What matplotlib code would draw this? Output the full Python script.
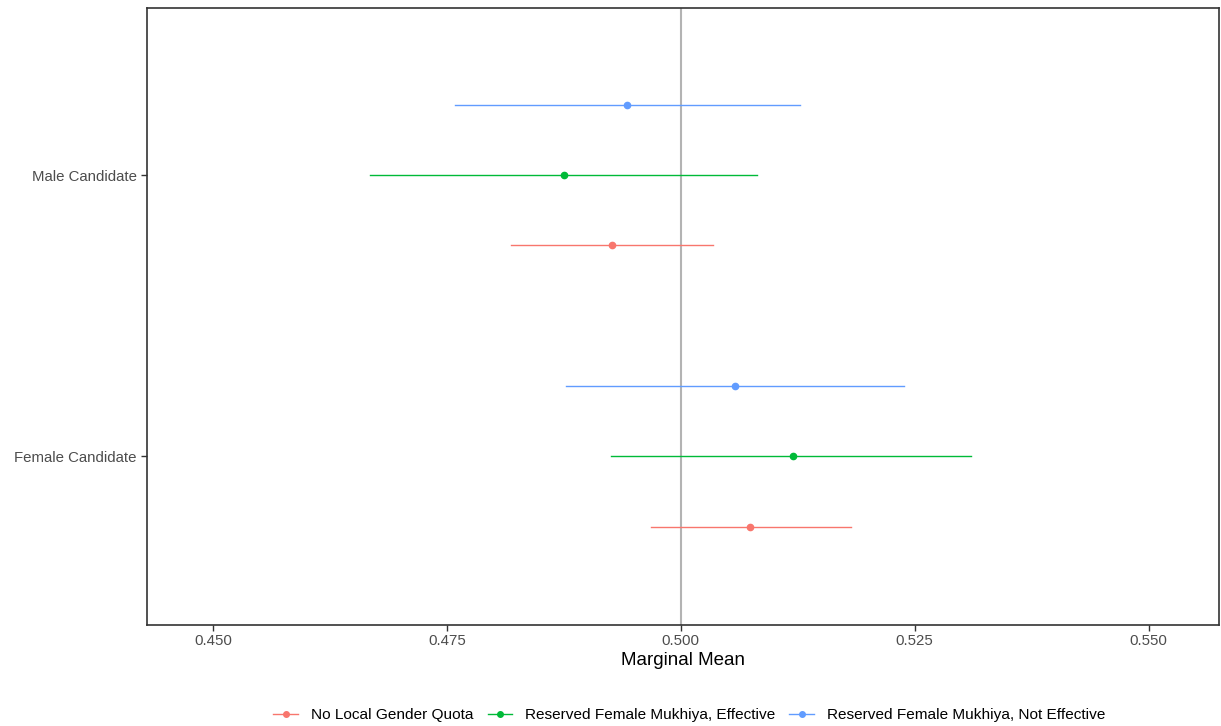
import matplotlib.pyplot as plt

# attribute levels (y axis), bottom to top
levels = ["Female Candidate", "Male Candidate"]
groups = ["No Local Gender Quota", "Reserved Female Mukhiya, Effective",
          "Reserved Female Mukhiya, Not Effective"]
colors = ["#F8766D", "#00BA38", "#619CFF"]

# marginal means and CI per group, order follows levels
est = {
    groups[0]: [0.5074, 0.4926],
    groups[1]: [0.5120, 0.4875],
    groups[2]: [0.5058, 0.4942],
}
lower = {
    groups[0]: [0.4968, 0.4819],
    groups[1]: [0.4925, 0.4668],
    groups[2]: [0.4877, 0.4759],
}
upper = {
    groups[0]: [0.5182, 0.5034],
    groups[1]: [0.5310, 0.5081],
    groups[2]: [0.5239, 0.5127],
}

plt.rcParams['font.family'] = ['Liberation Sans', 'DejaVu Sans']

fig = plt.figure(figsize=(12.21, 7.26), dpi=100)
ax = fig.add_axes([0.1204, 0.139, 0.8776, 0.850])

ax.axvline(0.5, color="#b3b3b3", lw=1.5, zorder=1)

offsets = [-0.25, 0, 0.25]
for g, c, off in zip(groups, colors, offsets):
    ys = [i + 1 + off for i in range(len(levels))]
    for y, lo, hi in zip(ys, lower[g], upper[g]):
        ax.plot([lo, hi], [y, y], color=c, lw=1.0, zorder=2)
    ax.plot(est[g], ys, 'o', color=c, ms=4.5, zorder=3)
    # legend handle
    ax.plot([], [], '-o', color=c, lw=1.0, ms=4, label=g)

ax.set_xlim(0.44295, 0.55748)
ax.set_ylim(0.4, 2.594)
ax.set_xticks([0.450, 0.475, 0.500, 0.525, 0.550])
ax.set_xticklabels(["0.450", "0.475", "0.500", "0.525", "0.550"])
ax.set_yticks([1, 2])
ax.set_yticklabels(levels)
ax.tick_params(labelsize=10.8, colors="#333333", labelcolor="#4d4d4d",
               length=4, width=1)
ax.tick_params(axis="x", pad=2.5)
for s in ax.spines.values():
    s.set_color("#333333")
    s.set_linewidth(1.2)
ax.set_xlabel("Marginal Mean", fontsize=13.5, labelpad=3)

fig.legend(loc="lower center", bbox_to_anchor=(0.5647, -0.014), ncol=3,
           frameon=False, fontsize=11.1, handlelength=1.6, columnspacing=0.9,
           handletextpad=0.85)

fig.savefig("out.png", dpi=100)
